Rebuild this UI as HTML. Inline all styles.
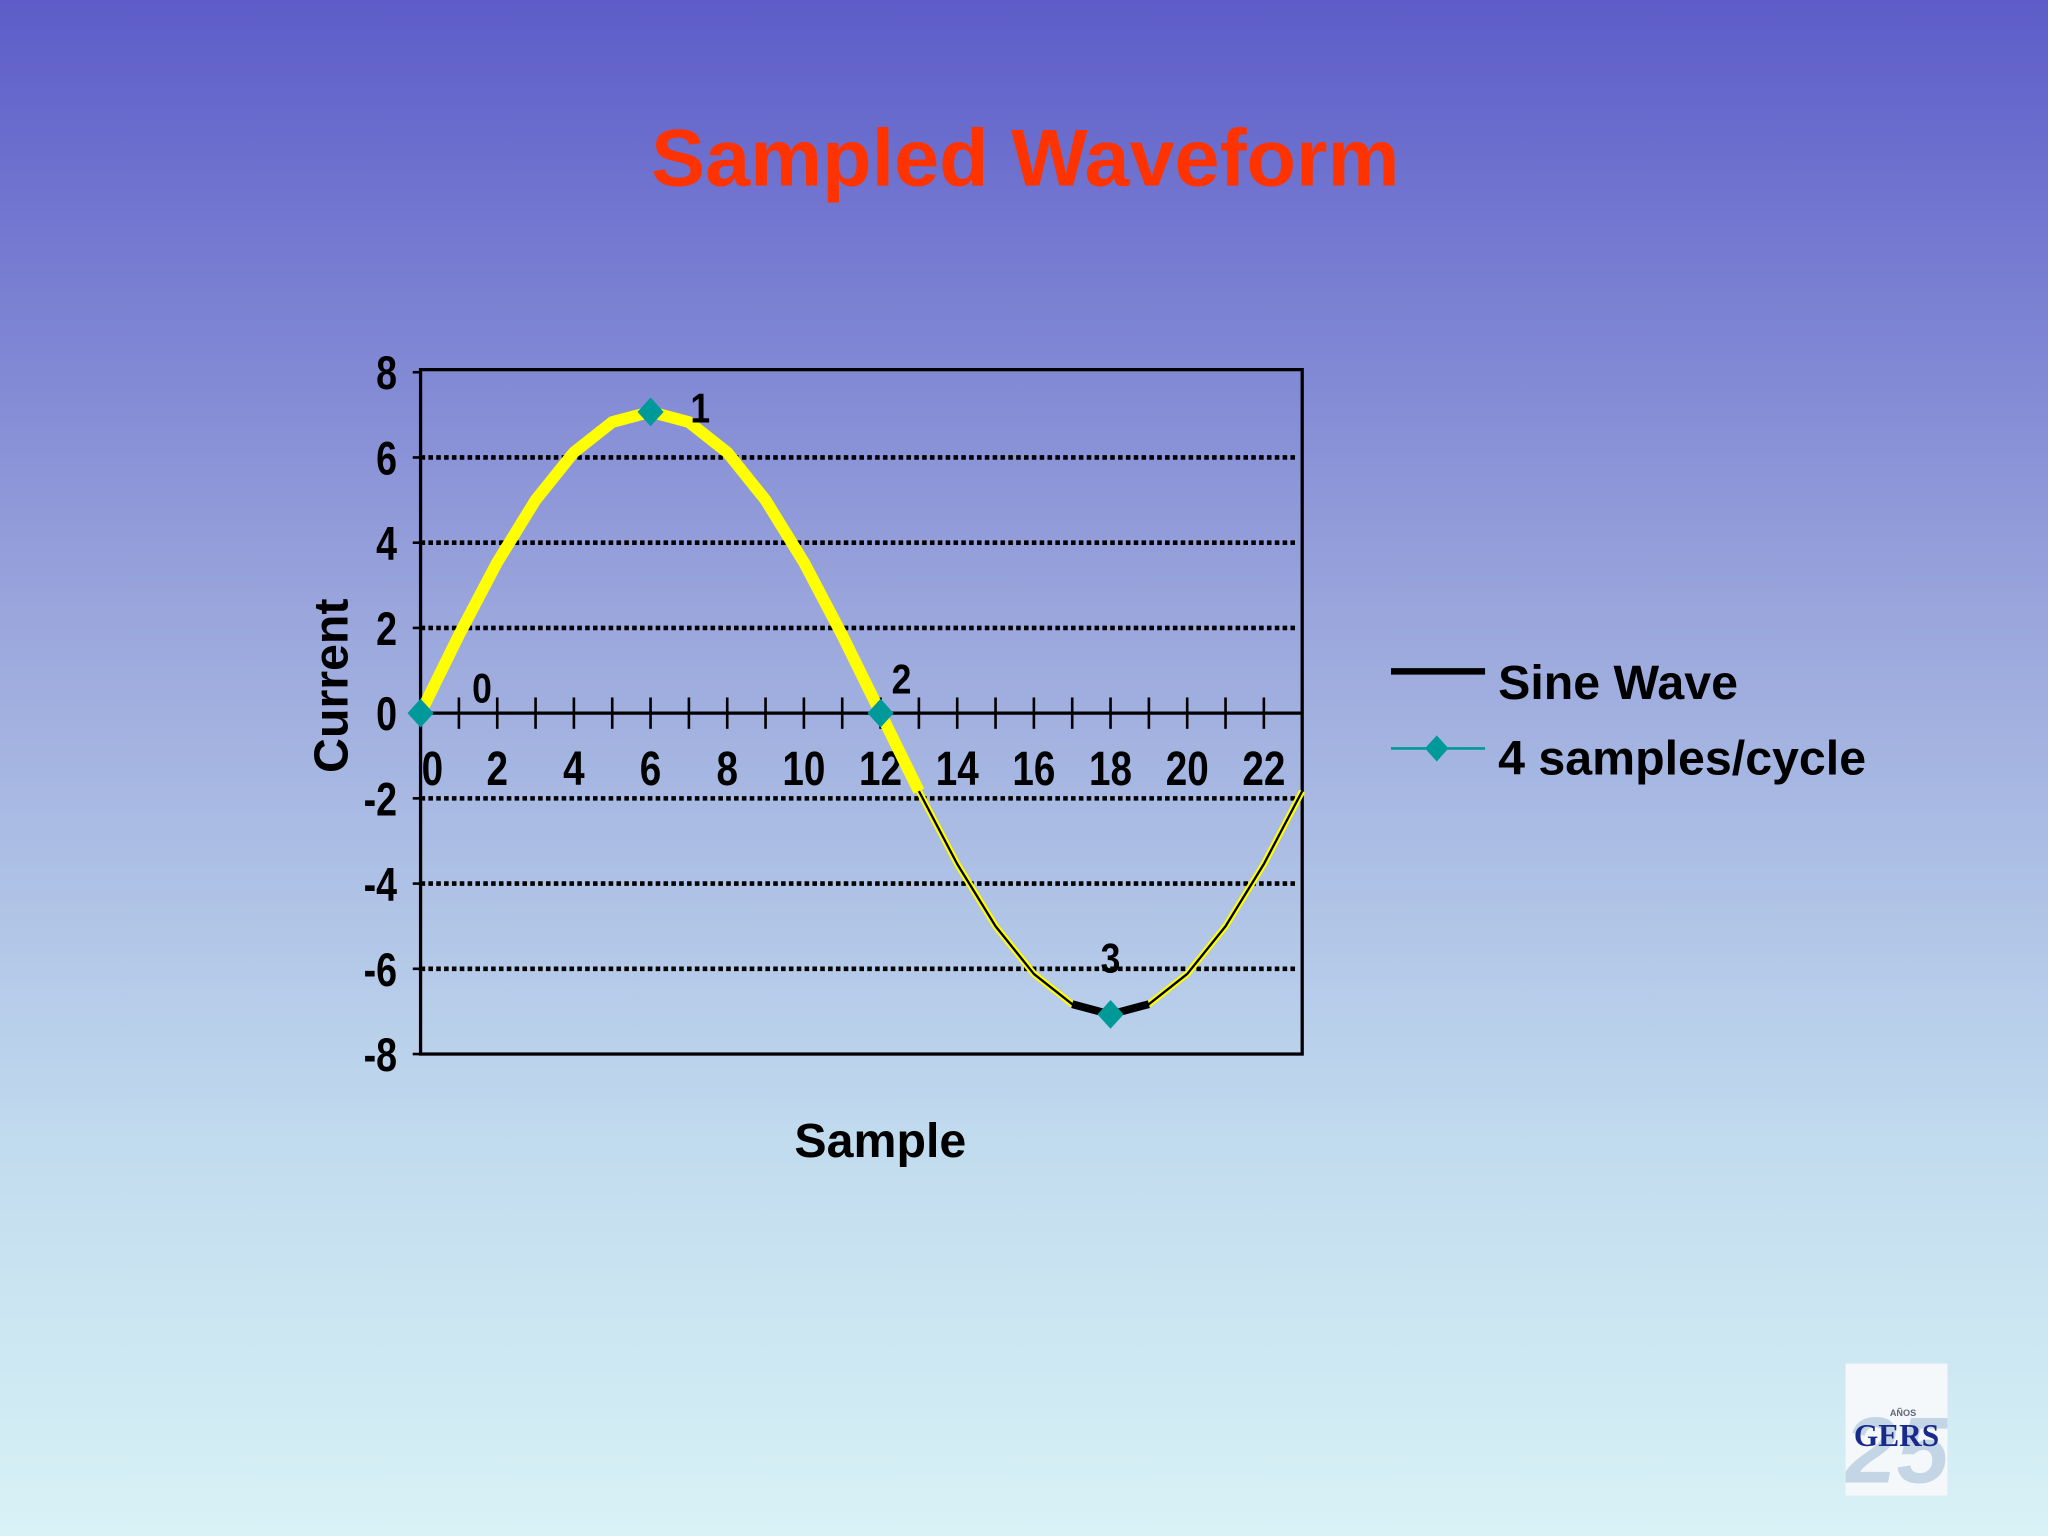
<!DOCTYPE html>
<html><head><meta charset="utf-8"><style>
html,body{margin:0;padding:0;width:2048px;height:1536px;overflow:hidden}
svg{display:block}
text{font-family:"Liberation Sans",Arial,sans-serif;font-weight:bold}
</style></head><body>
<svg id="chart" width="2048" height="1536" viewBox="0 0 1568 1176" xmlns="http://www.w3.org/2000/svg">
<defs><linearGradient id="bg" x1="0" y1="0" x2="0" y2="1">
<stop offset="0" stop-color="#5d5cc9"/><stop offset="0.4" stop-color="#9aa6dc"/><stop offset="0.75" stop-color="#c2dcef"/><stop offset="1" stop-color="#d8f2f6"/></linearGradient>
<clipPath id="logoclip"><rect x="1413" y="1044" width="78" height="101"/></clipPath></defs>
<rect width="1568" height="1176" fill="url(#bg)"/>
<text x="785" y="142" text-anchor="middle" font-size="62" fill="#ff3300">Sampled Waveform</text>
<rect x="322" y="283" width="675" height="524" fill="none" stroke="#000" stroke-width="2.5"/>
<g id="grid"></g>
<g id="yticks"></g>
<g id="xaxis"></g>
<g id="series"></g>
<g id="samples"></g>
<text transform="translate(266,525) rotate(-90)" text-anchor="middle" font-size="37" fill="#000">Current</text>
<text x="674" y="886" text-anchor="middle" font-size="37" fill="#000">Sample</text>
<g>
<g>
<line x1="1065" y1="514" x2="1137" y2="514" stroke="#000" stroke-width="5"/>
<text x="1147" y="535" font-size="37" fill="#000">Sine Wave</text></g>
<g>
<line x1="1065" y1="573" x2="1137" y2="573" stroke="#009999" stroke-width="2"/>
<path d="M1100 563 L1109 573 L1100 583 L1091 573 Z" fill="#009999"/>
<text x="1147" y="593" font-size="37" fill="#000">4 samples/cycle</text></g>
</g>
<g>
<rect x="1413" y="1044" width="78" height="101" fill="#f4f8fb"/>
<g clip-path="url(#logoclip)"><text x="1452" y="1135" text-anchor="middle" font-size="72" fill="#c4d6e6" font-style="italic">25</text></g>
<text x="1457" y="1084" text-anchor="middle" font-size="7" fill="#667" font-weight="normal">AÑOS</text>
<text x="1452" y="1107" text-anchor="middle" font-size="24" fill="#1a2a8a" style="font-family:'Liberation Serif',serif">GERS</text>
</g>
</svg>
<script>
const sampleIndex = [0,1,2,3,4,5,6,7,8,9,10,11,12,13,14,15,16,17,18,19,20,21,22,23];
const sineValues = [0,1.83,3.54,5,6.12,6.83,7.07,6.83,6.12,5,3.54,1.83,0,-1.83,-3.54,-5,-6.12,-6.83,-7.07,-6.83,-6.12,-5,-3.54,-1.83];
const sampleX = [0,6,12,18];
const sampleY = [0,7.07,0,-7.07];
const sampleLabels = ["0","1","2","3"];
const yTicks = [8,6,4,2,0,-2,-4,-6,-8];
const gridValues = [6,4,2,-2,-4,-6];
const xTickLabels = [0,2,4,6,8,10,12,14,16,18,20,22];

const NS="http://www.w3.org/2000/svg";
const X0=322,X1=997,Y0=807,Y1=285;
function xs(v){return X0+(v/23)*(X1-X0);}
function ys(v){return Y0-((v+8)/16)*(Y0-Y1);}
function mk(tag,attrs,parent){const e=document.createElementNS(NS,tag);for(const k in attrs)e.setAttribute(k,attrs[k]);parent.appendChild(e);return e;}

const grid=document.getElementById('grid');
gridValues.forEach(v=>{
  const l=mk('line',{x1:X0,x2:X1-5,y1:ys(v),y2:ys(v),stroke:'#000','stroke-width':3.5,'stroke-dasharray':'3.5 2.5'},grid);
  
  
});
const yt=document.getElementById('yticks');
yTicks.forEach(v=>{
  mk('line',{x1:X0-6,x2:X0,y1:ys(v),y2:ys(v),stroke:'#000','stroke-width':2},yt);
  const t=mk('text',{transform:`translate(304,${ys(v)+13}) scale(0.8,1)`,'text-anchor':'end','font-size':36,fill:'#000'},yt);
  t.textContent=v;
  
  
});
const xa=document.getElementById('xaxis');
mk('line',{x1:X0,x2:X1,y1:ys(0),y2:ys(0),stroke:'#000','stroke-width':2.5},xa);
sampleIndex.forEach(i=>{
  mk('line',{x1:xs(i),x2:xs(i),y1:ys(0)-12,y2:ys(0)+12,stroke:'#000','stroke-width':2},xa);
});
xTickLabels.forEach(v=>{
  const px=v===0?xs(v)+9:xs(v);
  const t=mk('text',{transform:`translate(${px},601) scale(0.8,1)`,'text-anchor':'middle','font-size':37,fill:'#000'},xa);
  t.textContent=v;
  
  
});
const se=document.getElementById('series');
function pts(a,b){let s=[];for(let i=a;i<=b;i++)s.push(xs(sampleIndex[i])+','+ys(sineValues[i]));return s.join(' ');}
const n=sampleIndex.length-1;
mk('polyline',{points:pts(0,13),fill:'none',stroke:'#ffff00','stroke-width':9,'stroke-linejoin':'round'},se);
mk('polyline',{points:pts(13,n),fill:'none',stroke:'#ffff00','stroke-width':5,'stroke-linejoin':'round'},se);
mk('polyline',{points:pts(13,n),fill:'none',stroke:'#000','stroke-width':1.8,'stroke-linejoin':'round'},se);
mk('polyline',{points:pts(17,19),fill:'none',stroke:'#000','stroke-width':6,'stroke-linejoin':'round'},se);
const sm=document.getElementById('samples');
const lblOff=[[47,-18],[38,-2],[16,-25],[0,-42]];
sampleX.forEach((x,i)=>{
  const cx=xs(x),cy=ys(sampleY[i]);
  const d=mk('path',{d:`M${cx} ${cy-11} L${cx+10} ${cy} L${cx} ${cy+11} L${cx-10} ${cy} Z`,fill:'#009999'},sm);
  
  
  const t=mk('text',{transform:`translate(${cx+lblOff[i][0]},${cy+lblOff[i][1]+10}) scale(0.85,1)`,'text-anchor':'middle','font-size':32,fill:'#000'},sm);
  t.textContent=sampleLabels[i];
  
  
});
</script>
</body></html>
